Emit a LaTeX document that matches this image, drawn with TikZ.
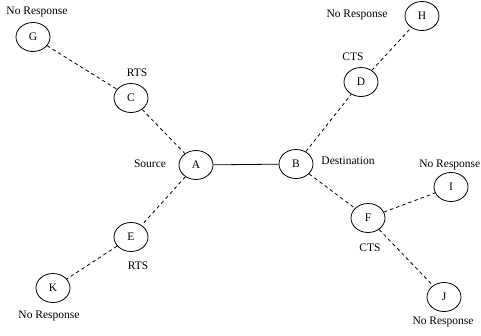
\documentclass[tikz,border=0pt]{standalone}
\usepackage{fontspec}
\setmainfont{Liberation Serif}
\usetikzlibrary{shapes.geometric}
\begin{document}
\begin{tikzpicture}[x=1pt,y=-1pt,
  nd/.style={draw,ellipse,minimum width=34pt,minimum height=29pt,inner sep=0pt,line width=0.8pt,font=\fontsize{11.5}{13}\selectfont},
  lbl/.style={inner sep=0pt,font=\fontsize{11.5}{13}\selectfont},
  dl/.style={line width=0.8pt,dash pattern=on 3.5pt off 3pt},
  sl/.style={line width=0.8pt}]
\useasboundingbox (0,0) rectangle (481,335);
\node[nd] (G) at (33,37) {G};
\node[nd] (C) at (131,98) {C};
\node[nd] (A) at (196,165) {A};
\node[nd] (B) at (296,164) {B};
\node[nd] (D) at (361,82) {D};
\node[nd] (H) at (422,16) {H};
\node[nd] (E) at (131,237) {E};
\node[nd] (K) at (53,288) {K};
\node[nd] (F) at (368,218) {F};
\node[nd] (I) at (451,187) {I};
\node[nd] (J) at (444,297) {J};
\node[lbl] (lG) at (37,12) {No Response};
\node[lbl] (lC) at (137,73) {RTS};
\node[lbl] (lA) at (150,164) {Source};
\node[lbl] (lH) at (357,15) {No Response};
\node[lbl] (lD) at (353,57) {CTS};
\node[lbl] (lB) at (348,161) {Destination};
\node[lbl,anchor=east] (lI) at (480.5,165) {No Response};
\node[lbl] (lF) at (370,248) {CTS};
\node[lbl] (lE) at (138,266) {RTS};
\node[lbl] (lK) at (49,316) {No Response};
\node[lbl] (lJ) at (443,322) {No Response};
\draw[sl] (A) -- (B);
\draw[dl] (G) -- (C);
\draw[dl] (C) -- (A);
\draw[dl] (A) -- (E);
\draw[dl] (E) -- (K);
\draw[dl] (B) -- (D);
\draw[dl] (D) -- (H);
\draw[dl] (B) -- (F);
\draw[dl] (F) -- (I);
\draw[dl] (F) -- (J);
\end{tikzpicture}
\end{document}
